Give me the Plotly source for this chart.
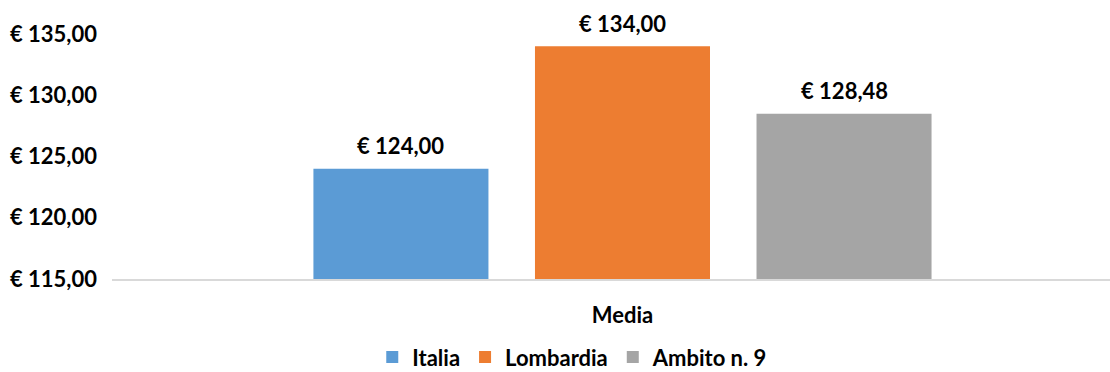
import plotly.graph_objects as go

# Data
category = ["Media"]
series_names = ["Italia", "Lombardia", "Ambito n. 9"]
series_values = [124.00, 134.00, 128.48]
series_colors = ["#5B9BD5", "#ED7D31", "#A5A5A5"]

FONT = "Lato"
FS = 22
BARGAP = 0.349
GROUPGAP = 0.21


def euro(v):
    return "€ " + f"{v:.2f}".replace(".", ",")


bold = dict(family=FONT, size=FS, color="#000000", weight=700)

fig = go.Figure()
for name, val, col in zip(series_names, series_values, series_colors):
    fig.add_trace(go.Bar(
        x=category, y=[val], name=name, marker_color=col,
        marker_line_width=0,
    ))

# value labels above each bar (x offsets follow the grouped-bar layout)
n = len(series_names)
slot = (1 - BARGAP) / n
for i, val in enumerate(series_values):
    fig.add_annotation(
        x=(i - (n - 1) / 2) * slot, y=val, xref="x", yref="y",
        text=euro(val), showarrow=False, yshift=23, font=bold,
    )

fig.update_layout(
    width=1110, height=372,
    margin=dict(l=112, r=0, t=34, b=93, autoexpand=False),
    paper_bgcolor="white", plot_bgcolor="white",
    barmode="group", bargap=BARGAP, bargroupgap=GROUPGAP,
    separators=",.",
    font=bold,
    legend=dict(
        orientation="h", xref="container", x=0.516, xanchor="center",
        yref="container", y=0.04, yanchor="middle",
        font=bold, itemwidth=30, traceorder="normal",
    ),
    showlegend=True,
)

fig.update_yaxes(
    range=[115, 135], dtick=5, tick0=115, tickprefix="€ ", tickformat=".2f",
    showgrid=False, zeroline=False, showline=False, ticks="",
    ticklabelstandoff=14, tickfont=bold,
)
fig.update_xaxes(
    type="category", range=[-0.5, 0.4775],
    showline=True, linecolor="#D9D9D9", linewidth=2, ticks="",
    showgrid=False, tickfont=bold, ticklabelstandoff=16,
)

fig.write_html("out.html")
